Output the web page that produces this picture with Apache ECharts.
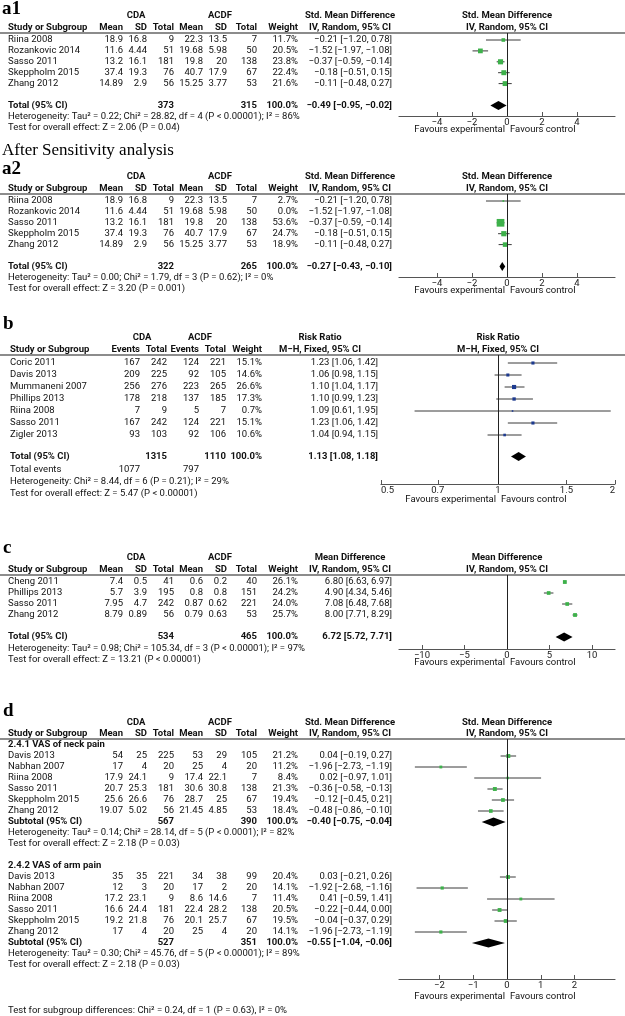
<!DOCTYPE html>
<html>
<head>
<meta charset="utf-8">
<script src="https://cdn.jsdelivr.net/npm/echarts@6/dist/echarts.min.js"></script>
<style>
html, body { margin: 0; padding: 0; background: #fff; }
#chart { width: 625px; height: 1016px; }
</style>
</head>
<body>
<div id="chart"></div>
<script>
// ---- a1 / a2 : Std. Mean Difference ----
var aStudies = ['Riina 2008', 'Rozankovic 2014', 'Sasso 2011', 'Skeppholm 2015', 'Zhang 2012'];
var aCdaMean = [18.9, 11.6, 13.2, 37.4, 14.89];
var aCdaSd = [16.8, 4.44, 16.1, 19.3, 2.9];
var aCdaN = [9, 51, 181, 76, 56];
var aAcdfMean = [22.3, 19.68, 19.8, 40.7, 15.25];
var aAcdfSd = [13.5, 5.98, 20, 17.9, 3.77];
var aAcdfN = [7, 50, 138, 67, 53];
var aEst = [-0.21, -1.52, -0.37, -0.18, -0.11];
var aLo = [-1.20, -1.97, -0.59, -0.51, -0.48];
var aHi = [0.78, -1.08, -0.14, 0.15, 0.27];
var a1Weight = [11.7, 20.5, 23.8, 22.4, 21.6];
var a1TotalN = [373, 315];
var a1Pooled = [-0.49, -0.95, -0.02];
var a1Het = 'Heterogeneity: Tau² = 0.22; Chi² = 28.82, df = 4 (P < 0.00001); I² = 86%';
var a1Test = 'Test for overall effect: Z = 2.06 (P = 0.04)';
var a2Weight = [2.7, 0.0, 53.6, 24.7, 18.9];
var a2TotalN = [322, 265];
var a2Pooled = [-0.27, -0.43, -0.10];
var a2Het = 'Heterogeneity: Tau² = 0.00; Chi² = 1.79, df = 3 (P = 0.62); I² = 0%';
var a2Test = 'Test for overall effect: Z = 3.20 (P = 0.001)';
var aTicks = [-4, -2, 0, 2, 4];

// ---- b : Risk Ratio ----
var bStudies = ['Coric 2011', 'Davis 2013', 'Mummaneni 2007', 'Phillips 2013', 'Riina 2008', 'Sasso 2011', 'Zigler 2013'];
var bCdaEvents = [167, 209, 256, 178, 7, 167, 93];
var bCdaN = [242, 225, 276, 218, 9, 242, 103];
var bAcdfEvents = [124, 92, 223, 137, 5, 124, 92];
var bAcdfN = [221, 105, 265, 185, 7, 221, 106];
var bWeight = [15.1, 14.6, 26.6, 17.3, 0.7, 15.1, 10.6];
var bEst = [1.23, 1.06, 1.10, 1.10, 1.09, 1.23, 1.04];
var bLo = [1.06, 0.98, 1.04, 0.99, 0.61, 1.06, 0.94];
var bHi = [1.42, 1.15, 1.17, 1.23, 1.95, 1.42, 1.15];
var bTotalN = [1315, 1110];
var bTotalEvents = [1077, 797];
var bPooled = [1.13, 1.08, 1.18];
var bHet = 'Heterogeneity: Chi² = 8.44, df = 6 (P = 0.21); I² = 29%';
var bTest = 'Test for overall effect: Z = 5.47 (P < 0.00001)';
var bTicks = [0.5, 0.7, 1, 1.5, 2];

// ---- c : Mean Difference ----
var cStudies = ['Cheng 2011', 'Phillips 2013', 'Sasso 2011', 'Zhang 2012'];
var cCdaMean = [7.4, 5.7, 7.95, 8.79];
var cCdaSd = [0.5, 3.9, 4.7, 0.89];
var cCdaN = [41, 195, 242, 56];
var cAcdfMean = [0.6, 0.8, 0.87, 0.79];
var cAcdfSd = [0.2, 0.8, 0.62, 0.63];
var cAcdfN = [40, 151, 221, 53];
var cWeight = [26.1, 24.2, 24.0, 25.7];
var cEst = [6.80, 4.90, 7.08, 8.00];
var cLo = [6.63, 4.34, 6.48, 7.71];
var cHi = [6.97, 5.46, 7.68, 8.29];
var cTotalN = [534, 465];
var cPooled = [6.72, 5.72, 7.71];
var cHet = 'Heterogeneity: Tau² = 0.98; Chi² = 105.34, df = 3 (P < 0.00001); I² = 97%';
var cTest = 'Test for overall effect: Z = 13.21 (P < 0.00001)';
var cTicks = [-10, -5, 0, 5, 10];

// ---- d : VAS, neck / arm ----
var dStudies = ['Davis 2013', 'Nabhan 2007', 'Riina 2008', 'Sasso 2011', 'Skeppholm 2015', 'Zhang 2012'];
var dNeckCdaMean = [54, 17, 17.9, 20.7, 25.6, 19.07];
var dNeckCdaSd = [25, 4, 24.1, 25.3, 26.6, 5.02];
var dNeckCdaN = [225, 20, 9, 181, 76, 56];
var dNeckAcdfMean = [53, 25, 17.4, 30.6, 28.7, 21.45];
var dNeckAcdfSd = [29, 4, 22.1, 30.8, 25, 4.85];
var dNeckAcdfN = [105, 20, 7, 138, 67, 53];
var dNeckWeight = [21.2, 11.2, 8.4, 21.3, 19.4, 18.4];
var dNeckEst = [0.04, -1.96, 0.02, -0.36, -0.12, -0.48];
var dNeckLo = [-0.19, -2.73, -0.97, -0.58, -0.45, -0.86];
var dNeckHi = [0.27, -1.19, 1.01, -0.13, 0.21, -0.10];
var dNeckTotalN = [567, 390];
var dNeckPooled = [-0.40, -0.75, -0.04];
var dNeckHet = 'Heterogeneity: Tau² = 0.14; Chi² = 28.14, df = 5 (P < 0.0001); I² = 82%';
var dNeckTest = 'Test for overall effect: Z = 2.18 (P = 0.03)';
var dArmCdaMean = [35, 12, 17.2, 16.6, 19.2, 17];
var dArmCdaSd = [35, 3, 23.1, 24.4, 21.8, 4];
var dArmCdaN = [221, 20, 9, 181, 76, 20];
var dArmAcdfMean = [34, 17, 8.6, 22.4, 20.1, 25];
var dArmAcdfSd = [38, 2, 14.6, 28.2, 25.7, 4];
var dArmAcdfN = [99, 20, 7, 138, 67, 20];
var dArmWeight = [20.4, 14.1, 11.4, 20.5, 19.5, 14.1];
var dArmEst = [0.03, -1.92, 0.41, -0.22, -0.04, -1.96];
var dArmLo = [-0.21, -2.68, -0.59, -0.44, -0.37, -2.73];
var dArmHi = [0.26, -1.16, 1.41, 0.00, 0.29, -1.19];
var dArmTotalN = [527, 351];
var dArmPooled = [-0.55, -1.04, -0.06];
var dArmHet = 'Heterogeneity: Tau² = 0.30; Chi² = 45.76, df = 5 (P < 0.00001); I² = 89%';
var dArmTest = 'Test for overall effect: Z = 2.18 (P = 0.03)';
var dSubgroupTest = 'Test for subgroup differences: Chi² = 0.24, df = 1 (P = 0.63), I² = 0%';
var dTicks = [-2, -1, 0, 1, 2];

var FONT = 'Roboto, "Liberation Sans", sans-serif';
var SERIF = '"Liberation Serif", "DejaVu Serif", serif';
var FS = 9.5;
var GREEN = '#3db14a';
var BLUE = '#1d3a8f';

var graphics = [];
var grids = [], xAxes = [], yAxes = [], series = [];

function minus(s) { return String(s).replace(/-/g, '\u2212'); }
function f2(v) { return minus(v.toFixed(2)); }
function ci(e, l, h) { return f2(e) + ' [' + f2(l) + ', ' + f2(h) + ']'; }
function pct(w) { return w.toFixed(1) + '%'; }

function txt(x, y, s, o) {
    o = o || {};
    graphics.push({
        type: 'text', x: x, y: y, silent: true,
        style: {
            text: s,
            fill: o.color || '#111',
            font: (o.bold ? 'bold ' : '') + (o.size || FS) + 'px ' + (o.family || FONT),
            textAlign: o.align || 'left',
            textVerticalAlign: 'middle'
        }
    });
}
function hline(x1, x2, y, color, w) {
    graphics.push({
        type: 'line', silent: true,
        shape: { x1: x1, y1: y, x2: x2, y2: y },
        style: { stroke: color, lineWidth: w }
    });
}

function makeRender(color, k) {
    return function (params, api) {
        var r = api.value(3), w = api.value(4);
        var c = api.coord([api.value(0), r]);
        var a = api.coord([api.value(1), r]);
        var b = api.coord([api.value(2), r]);
        if (api.value(5)) {
            return {
                type: 'polygon',
                shape: { points: [[a[0], c[1]], [c[0], c[1] - 4.5], [b[0], c[1]], [c[0], c[1] + 4.5]] },
                style: { fill: '#000' }
            };
        }
        if (w <= 0) return null;
        var s = Math.max(1.6, k * Math.sqrt(w));
        return {
            type: 'group',
            children: [
                { type: 'line', shape: { x1: a[0], y1: c[1], x2: b[0], y2: c[1] }, style: { stroke: '#3a3a3a', lineWidth: 1 } },
                { type: 'rect', shape: { x: c[0] - s / 2, y: c[1] - s / 2, width: s, height: s }, style: { fill: color } }
            ]
        };
    };
}

// one plot area per panel
function addPlot(L, ticks, rows, color, k, fmt, edgeAlign) {
    var i = grids.length;
    grids.push({ left: L.left, width: L.width, top: L.sep, height: L.axis - L.sep, outerBoundsMode: 'none' });
    xAxes.push({
        gridIndex: i, type: 'value', min: L.xmin, max: L.xmax,
        axisLine: { show: true, onZero: false, lineStyle: { color: '#555', width: 1.2 } },
        axisTick: { show: true, inside: true, length: 4, customValues: ticks, lineStyle: { color: '#555' } },
        axisLabel: {
            customValues: ticks, margin: 2, fontSize: FS, fontFamily: FONT, color: '#222', formatter: fmt,
            alignMinLabel: edgeAlign ? 'left' : null, alignMaxLabel: edgeAlign ? 'right' : null
        },
        splitLine: { show: false }
    });
    yAxes.push({
        gridIndex: i, type: 'value', inverse: true, show: false,
        min: (L.sep - L.row0) / L.step, max: (L.axis - L.row0) / L.step
    });
    series.push({
        type: 'custom', xAxisIndex: i, yAxisIndex: i,
        renderItem: makeRender(color, k),
        data: rows,
        markLine: {
            silent: true, symbol: ['none', 'none'], label: { show: false },
            lineStyle: { color: '#222', width: 1, type: 'solid' },
            data: [{ xAxis: 0 }]
        }
    });
    txt(L.zero - 2, L.fav, 'Favours experimental', { align: 'right' });
    txt(L.zero + 3, L.fav, 'Favours control');
}

// continuous table (Mean / SD / Total)
var CX = { study: 8, cols: [123, 147, 174, 203, 227, 257, 298], ci: 392, eff: 350 };
function contHeader(L, effect, method) {
    hline(0, 625, L.sep, '#666', 1.3);
    txt(136, L.h1, 'CDA', { bold: 1, align: 'center' });
    txt(220, L.h1, 'ACDF', { bold: 1, align: 'center' });
    txt(CX.eff, L.h1, effect, { bold: 1, align: 'center' });
    txt(L.zero, L.h1, effect, { bold: 1, align: 'center' });
    txt(CX.study, L.h2, 'Study or Subgroup', { bold: 1 });
    ['Mean', 'SD', 'Total', 'Mean', 'SD', 'Total', 'Weight'].forEach(function (h, j) {
        txt(CX.cols[j], L.h2, h, { bold: 1, align: 'right' });
    });
    txt(CX.eff, L.h2, method, { bold: 1, align: 'center' });
    txt(L.zero, L.h2, method, { bold: 1, align: 'center' });
}
function contRows(L, start, names, cm, cs, cn, am, as, an, w, est, lo, hi, rows) {
    names.forEach(function (n, i) {
        var y = L.row0 + L.step * (start + i);
        txt(CX.study, y, n);
        [cm[i], cs[i], cn[i], am[i], as[i], an[i]].forEach(function (v, j) {
            txt(CX.cols[j], y, String(v), { align: 'right' });
        });
        txt(CX.cols[6], y, pct(w[i]), { align: 'right' });
        txt(CX.ci, y, ci(est[i], lo[i], hi[i]), { align: 'right' });
        rows.push([est[i], lo[i], hi[i], start + i, w[i], 0]);
    });
}
function contTotal(L, idx, label, n, pooled, rows) {
    var y = L.row0 + L.step * idx;
    txt(CX.study, y, label, { bold: 1 });
    txt(CX.cols[2], y, String(n[0]), { bold: 1, align: 'right' });
    txt(CX.cols[5], y, String(n[1]), { bold: 1, align: 'right' });
    txt(CX.cols[6], y, '100.0%', { bold: 1, align: 'right' });
    txt(CX.ci, y, ci(pooled[0], pooled[1], pooled[2]), { bold: 1, align: 'right' });
    rows.push([pooled[0], pooled[1], pooled[2], idx, 100, 1]);
}

// ---------- a1 ----------
var La1 = { label: 9, h1: 16, h2: 28, sep: 33, row0: 40, step: 10.9, axis: 116, fav: 129.5,
    left: 399, width: 216, zero: 507, xmin: -6.17, xmax: 6.17 };
txt(2, La1.label, 'a1', { bold: 1, size: 19, family: SERIF, color: '#000' });
contHeader(La1, 'Std. Mean Difference', 'IV, Random, 95% CI');
var a1Rows = [];
contRows(La1, 0, aStudies, aCdaMean, aCdaSd, aCdaN, aAcdfMean, aAcdfSd, aAcdfN, a1Weight, aEst, aLo, aHi, a1Rows);
contTotal(La1, 6, 'Total (95% CI)', a1TotalN, a1Pooled, a1Rows);
txt(CX.study, 117, a1Het);
txt(CX.study, 128, a1Test);
addPlot(La1, aTicks, a1Rows, GREEN, 1.05, minus);

txt(2, 151, 'After Sensitivity analysis', { size: 17, family: SERIF, color: '#000' });

// ---------- a2 ----------
var La2 = { label: 169, h1: 177, h2: 189, sep: 194, row0: 201, step: 10.9, axis: 277, fav: 290.5,
    left: 399, width: 216, zero: 507, xmin: -6.17, xmax: 6.17 };
txt(2, La2.label, 'a2', { bold: 1, size: 19, family: SERIF, color: '#000' });
contHeader(La2, 'Std. Mean Difference', 'IV, Random, 95% CI');
var a2Rows = [];
contRows(La2, 0, aStudies, aCdaMean, aCdaSd, aCdaN, aAcdfMean, aAcdfSd, aAcdfN, a2Weight, aEst, aLo, aHi, a2Rows);
contTotal(La2, 6, 'Total (95% CI)', a2TotalN, a2Pooled, a2Rows);
txt(CX.study, 278, a2Het);
txt(CX.study, 289, a2Test);
addPlot(La2, aTicks, a2Rows, GREEN, 1.05, minus);

// ---------- b (log scale, drawn on ln values) ----------
var Lb = { label: 324, h1: 338, h2: 350, sep: 355, row0: 363, step: 12, axis: 484, fav: 500,
    left: 381, width: 234, zero: 498, xmin: Math.log(0.5), xmax: Math.log(2) };
var BX = { study: 10, cols: [140, 167, 199, 226, 262], ci: 378, eff: 320 };
txt(3, Lb.label, 'b', { bold: 1, size: 19, family: SERIF, color: '#000' });
hline(0, 625, Lb.sep, '#666', 1.3);
txt(142, Lb.h1, 'CDA', { bold: 1, align: 'center' });
txt(200, Lb.h1, 'ACDF', { bold: 1, align: 'center' });
txt(BX.eff, Lb.h1, 'Risk Ratio', { bold: 1, align: 'center' });
txt(Lb.zero, Lb.h1, 'Risk Ratio', { bold: 1, align: 'center' });
txt(BX.study, Lb.h2, 'Study or Subgroup', { bold: 1 });
['Events', 'Total', 'Events', 'Total', 'Weight'].forEach(function (h, j) {
    txt(BX.cols[j], Lb.h2, h, { bold: 1, align: 'right' });
});
txt(BX.eff, Lb.h2, 'M\u2212H, Fixed, 95% CI', { bold: 1, align: 'center' });
txt(Lb.zero, Lb.h2, 'M\u2212H, Fixed, 95% CI', { bold: 1, align: 'center' });
var bRows = [];
bStudies.forEach(function (n, i) {
    var y = Lb.row0 + Lb.step * i;
    txt(BX.study, y, n);
    [bCdaEvents[i], bCdaN[i], bAcdfEvents[i], bAcdfN[i]].forEach(function (v, j) {
        txt(BX.cols[j], y, String(v), { align: 'right' });
    });
    txt(BX.cols[4], y, pct(bWeight[i]), { align: 'right' });
    txt(BX.ci, y, ci(bEst[i], bLo[i], bHi[i]), { align: 'right' });
    bRows.push([Math.log(bEst[i]), Math.log(bLo[i]), Math.log(bHi[i]), i, bWeight[i], 0]);
});
var bTotIdx = 7.8;
var bTotY = Lb.row0 + Lb.step * bTotIdx;
txt(BX.study, bTotY, 'Total (95% CI)', { bold: 1 });
txt(BX.cols[1], bTotY, String(bTotalN[0]), { bold: 1, align: 'right' });
txt(BX.cols[3], bTotY, String(bTotalN[1]), { bold: 1, align: 'right' });
txt(BX.cols[4], bTotY, '100.0%', { bold: 1, align: 'right' });
txt(BX.ci, bTotY, ci(bPooled[0], bPooled[1], bPooled[2]), { bold: 1, align: 'right' });
bRows.push([Math.log(bPooled[0]), Math.log(bPooled[1]), Math.log(bPooled[2]), bTotIdx, 100, 1]);
txt(BX.study, 470, 'Total events');
txt(BX.cols[0], 470, String(bTotalEvents[0]), { align: 'right' });
txt(BX.cols[2], 470, String(bTotalEvents[1]), { align: 'right' });
txt(BX.study, 482, bHet);
txt(BX.study, 494, bTest);
var bLnTicks = bTicks.map(function (t) { return Math.log(t); });
addPlot(Lb, bLnTicks, bRows, BLUE, 0.8, function (v) { return String(+Math.exp(v).toFixed(2)); }, true);

// ---------- c ----------
var Lc = { label: 548, h1: 558, h2: 570, sep: 575, row0: 582, step: 11, axis: 649, fav: 663,
    left: 399, width: 216, zero: 507, xmin: -12.7, xmax: 12.7 };
txt(3, Lc.label, 'c', { bold: 1, size: 19, family: SERIF, color: '#000' });
contHeader(Lc, 'Mean Difference', 'IV, Random, 95% CI');
var cRows = [];
contRows(Lc, 0, cStudies, cCdaMean, cCdaSd, cCdaN, cAcdfMean, cAcdfSd, cAcdfN, cWeight, cEst, cLo, cHi, cRows);
contTotal(Lc, 5, 'Total (95% CI)', cTotalN, cPooled, cRows);
txt(CX.study, 649, cHet);
txt(CX.study, 660, cTest);
addPlot(Lc, cTicks, cRows, GREEN, 0.75, minus);

// ---------- d ----------
var Ld = { label: 711, h1: 723, h2: 734, sep: 739, row0: 745, step: 11, axis: 979, fav: 997,
    left: 399, width: 216, zero: 507, xmin: -3.2, xmax: 3.2 };
txt(3, Ld.label, 'd', { bold: 1, size: 19, family: SERIF, color: '#000' });
contHeader(Ld, 'Std. Mean Difference', 'IV, Random, 95% CI');
var dRows = [];
txt(CX.study, Ld.row0, '2.4.1 VAS of neck pain', { bold: 1 });
contRows(Ld, 1, dStudies, dNeckCdaMean, dNeckCdaSd, dNeckCdaN, dNeckAcdfMean, dNeckAcdfSd, dNeckAcdfN,
    dNeckWeight, dNeckEst, dNeckLo, dNeckHi, dRows);
contTotal(Ld, 7, 'Subtotal (95% CI)', dNeckTotalN, dNeckPooled, dRows);
txt(CX.study, Ld.row0 + Ld.step * 8, dNeckHet);
txt(CX.study, Ld.row0 + Ld.step * 9, dNeckTest);
txt(CX.study, Ld.row0 + Ld.step * 11, '2.4.2 VAS of arm pain', { bold: 1 });
contRows(Ld, 12, dStudies, dArmCdaMean, dArmCdaSd, dArmCdaN, dArmAcdfMean, dArmAcdfSd, dArmAcdfN,
    dArmWeight, dArmEst, dArmLo, dArmHi, dRows);
contTotal(Ld, 18, 'Subtotal (95% CI)', dArmTotalN, dArmPooled, dRows);
txt(CX.study, Ld.row0 + Ld.step * 19, dArmHet);
txt(CX.study, Ld.row0 + Ld.step * 20, dArmTest);
txt(CX.study, 1011, dSubgroupTest);
addPlot(Ld, dTicks, dRows, GREEN, 0.85, minus);

var chart = echarts.init(document.getElementById('chart'));
chart.setOption({
    animation: false,
    backgroundColor: '#fff',
    grid: grids,
    xAxis: xAxes,
    yAxis: yAxes,
    series: series,
    graphic: { elements: graphics }
});
</script>
</body>
</html>
